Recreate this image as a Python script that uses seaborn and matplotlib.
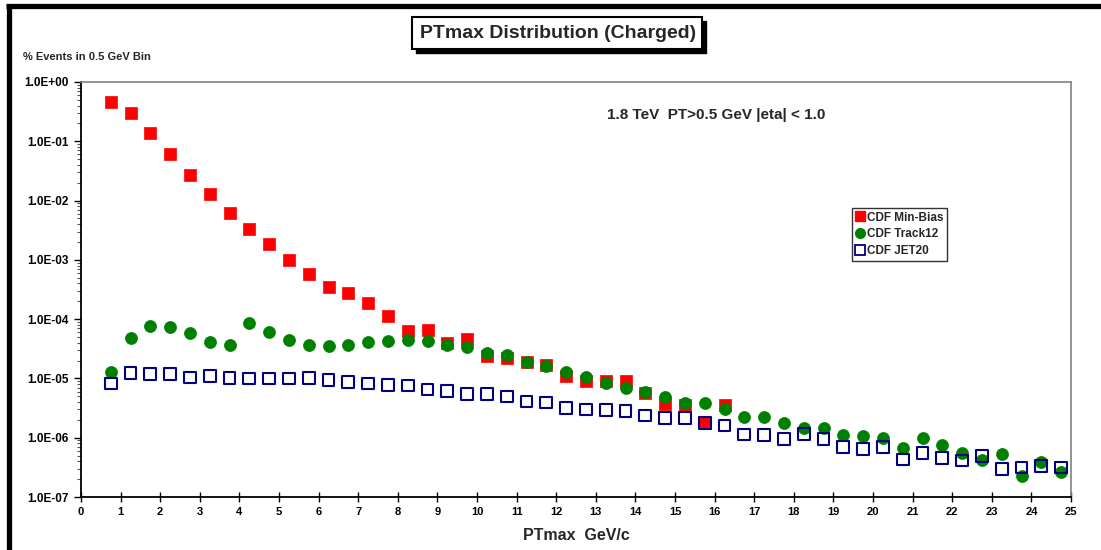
import numpy as np
import pandas as pd
import matplotlib
matplotlib.use("Agg")
import matplotlib.pyplot as plt
import seaborn as sns
from matplotlib.patches import Rectangle
from matplotlib.lines import Line2D
from matplotlib.ticker import FuncFormatter, LogLocator, NullFormatter

# ---------------- data ----------------
x_minbias = [0.75, 1.25, 1.75, 2.25, 2.75, 3.25, 3.75, 4.25, 4.75, 5.25, 5.75, 6.25,
             6.75, 7.25, 7.75, 8.25, 8.75, 9.25, 9.75, 10.25, 10.75, 11.25, 11.75,
             12.25, 12.75, 13.25, 13.75, 14.25, 14.75, 15.25, 15.75, 16.25]
y_minbias = [0.46, 0.30, 0.14, 0.060, 0.027, 0.0129, 0.0062, 0.00326, 0.00187, 0.0010,
             5.7e-4, 3.5e-4, 2.8e-4, 1.86e-4, 1.14e-4, 6.4e-5, 6.6e-5, 4.0e-5, 4.7e-5,
             2.35e-5, 2.2e-5, 1.87e-5, 1.67e-5, 1.09e-5, 9.2e-6, 8.9e-6, 9.1e-6,
             5.6e-6, 3.67e-6, 3.6e-6, 1.78e-6, 3.6e-6]

x_track12 = [0.75, 1.25, 1.75, 2.25, 2.75, 3.25, 3.75, 4.25, 4.75, 5.25, 5.75, 6.25,
             6.75, 7.25, 7.75, 8.25, 8.75, 9.25, 9.75, 10.25, 10.75, 11.25, 11.75,
             12.25, 12.75, 13.25, 13.75, 14.25, 14.75, 15.25, 15.75, 16.25, 16.75,
             17.25, 17.75, 18.25, 18.75, 19.25, 19.75, 20.25, 20.75, 21.25, 21.75,
             22.25, 22.75, 23.25, 23.75, 24.25, 24.75]
y_track12 = [1.29e-5, 4.84e-5, 7.7e-5, 7.5e-5, 5.9e-5, 4.1e-5, 3.7e-5, 8.7e-5, 6.1e-5,
             4.4e-5, 3.7e-5, 3.5e-5, 3.65e-5, 4.1e-5, 4.2e-5, 4.5e-5, 4.2e-5, 3.7e-5,
             3.4e-5, 2.7e-5, 2.44e-5, 1.9e-5, 1.6e-5, 1.27e-5, 1.07e-5, 8.5e-6, 6.8e-6,
             5.9e-6, 4.9e-6, 3.9e-6, 3.9e-6, 3.0e-6, 2.25e-6, 2.25e-6, 1.75e-6, 1.47e-6,
             1.45e-6, 1.12e-6, 1.05e-6, 9.7e-7, 6.6e-7, 9.7e-7, 7.6e-7, 5.5e-7, 4.25e-7,
             5.25e-7, 2.3e-7, 3.97e-7, 2.6e-7]

x_jet20 = list(x_track12)
y_jet20 = [8.2e-6, 1.24e-5, 1.18e-5, 1.2e-5, 1.04e-5, 1.09e-5, 1.02e-5, 1.0e-5, 1.0e-5,
           1.0e-5, 1.02e-5, 9.3e-6, 8.75e-6, 8.2e-6, 7.8e-6, 7.6e-6, 6.5e-6, 6.2e-6,
           5.4e-6, 5.4e-6, 4.95e-6, 4.1e-6, 3.9e-6, 3.15e-6, 3.0e-6, 2.95e-6, 2.8e-6,
           2.37e-6, 2.13e-6, 2.13e-6, 1.78e-6, 1.6e-6, 1.14e-6, 1.12e-6, 9.6e-7, 1.16e-6,
           9.5e-7, 6.9e-7, 6.45e-7, 7.0e-7, 4.3e-7, 5.5e-7, 4.6e-7, 4.1e-7, 4.9e-7,
           3.0e-7, 3.15e-7, 3.3e-7, 3.15e-7]

series_labels = ["CDF Min-Bias", "CDF Track12", "CDF JET20"]
x_ticks = list(range(0, 26))
y_ticks = [1e-7, 1e-6, 1e-5, 1e-4, 1e-3, 1e-2, 1e-1, 1e0]

# ---------------- style ----------------
sns.set_theme(style="white")
plt.rcParams["font.family"] = ["Liberation Sans", "DejaVu Sans"]
plt.rcParams["font.weight"] = "bold"

W, H = 1101, 550
fig = plt.figure(figsize=(W / 100, H / 100), dpi=100)
fig.patch.set_facecolor("white")

def fx(px):
    return px / W

def fy(py):
    return 1 - py / H

ax = fig.add_axes([fx(81), fy(497), fx(1071) - fx(81), fy(82) - fy(497)])
ax.set_facecolor("white")

df_mb = pd.DataFrame({"x": x_minbias, "y": y_minbias})
df_tr = pd.DataFrame({"x": x_track12, "y": y_track12})
df_jt = pd.DataFrame({"x": x_jet20, "y": y_jet20})

sns.scatterplot(data=df_mb, x="x", y="y", ax=ax, marker="s", s=80,
                color="#ff0000", edgecolor="#ff0000", linewidth=0.5, zorder=3,
                legend=False)
sns.scatterplot(data=df_tr, x="x", y="y", ax=ax, marker="o", s=75,
                color="#008000", edgecolor="#008000", linewidth=0.5, zorder=4,
                legend=False)
sns.scatterplot(data=df_jt, x="x", y="y", ax=ax, marker="s", s=70,
                facecolor="none", edgecolor="#000080", linewidth=1.5, zorder=5,
                legend=False)

ax.set_yscale("log")
ax.set_xlim(0, 25)
ax.set_ylim(1e-7, 1e0)
ax.set_xticks(x_ticks)
ax.set_yticks(y_ticks)
ax.yaxis.set_major_formatter(FuncFormatter(lambda v, p: f"{v:.1E}"))
ax.yaxis.set_minor_locator(LogLocator(base=10, subs=np.arange(2, 10)))
ax.yaxis.set_minor_formatter(NullFormatter())
ax.tick_params(axis="x", which="major", direction="inout", length=7, width=1,
               labelsize=8, pad=4, colors="black", bottom=True)
ax.tick_params(axis="y", which="major", direction="out", length=5, width=1,
               labelsize=8.5, pad=4, colors="black", left=True)
ax.tick_params(axis="y", which="minor", direction="out", length=3, width=0.8,
               colors="#555555", left=True)
for lab in ax.get_xticklabels() + ax.get_yticklabels():
    lab.set_fontweight("bold")

for side in ["left", "bottom"]:
    ax.spines[side].set_color("black")
    ax.spines[side].set_linewidth(1.3)
for side in ["top", "right"]:
    ax.spines[side].set_color("#808080")
    ax.spines[side].set_linewidth(1.2)
ax.grid(False)
ax.set_xlabel("")
ax.set_ylabel("")

# axis label texts
fig.text(fx(576), fy(535), "PTmax  GeV/c", ha="center", va="center",
         fontsize=11.5, fontweight="bold")
fig.text(fx(23), fy(57), "% Events in 0.5 GeV Bin", ha="left", va="center",
         fontsize=8, fontweight="bold")
fig.text(fx(607), fy(115), "1.8 TeV  PT>0.5 GeV |eta| < 1.0", ha="left",
         va="center", fontsize=11, fontweight="bold")

# title box with shadow
fig.add_artist(Rectangle((fx(416), fy(53)), fx(702) - fx(412), fy(17) - fy(49),
                         transform=fig.transFigure, facecolor="black",
                         edgecolor="black", zorder=1))
fig.add_artist(Rectangle((fx(412), fy(49)), fx(702) - fx(412), fy(17) - fy(49),
                         transform=fig.transFigure, facecolor="white",
                         edgecolor="black", linewidth=1.5, zorder=2))
fig.text(fx(558), fy(33), "PTmax Distribution (Charged)", ha="center",
         va="center", fontsize=14, fontweight="bold", zorder=3)

# outer thick border (top and left)
fig.add_artist(Line2D([fx(6), 1.0], [fy(5.5), fy(5.5)], transform=fig.transFigure,
                      color="black", linewidth=3.8, solid_capstyle="butt"))
fig.add_artist(Line2D([fx(8.5), fx(8.5)], [fy(3.5), 0.0], transform=fig.transFigure,
                      color="black", linewidth=3.8, solid_capstyle="butt"))

# legend
handles = [
    Line2D([], [], marker="s", linestyle="none", markersize=7,
           markerfacecolor="#ff0000", markeredgecolor="#ff0000"),
    Line2D([], [], marker="o", linestyle="none", markersize=7,
           markerfacecolor="#008000", markeredgecolor="#008000"),
    Line2D([], [], marker="s", linestyle="none", markersize=7,
           markerfacecolor="none", markeredgecolor="#000080", markeredgewidth=1.3),
]
leg = ax.legend(handles, series_labels, loc="upper left",
                bbox_to_anchor=(fx(852), fy(208)), bbox_transform=fig.transFigure,
                frameon=True, fancybox=False, shadow=False, fontsize=8.5,
                handlelength=0.8, handletextpad=0.2, borderpad=0.3,
                labelspacing=0.4, borderaxespad=0)
leg.get_frame().set_edgecolor("black")
leg.get_frame().set_linewidth(1.0)
for t in leg.get_texts():
    t.set_fontweight("bold")

fig.savefig("out.png", dpi=100)
